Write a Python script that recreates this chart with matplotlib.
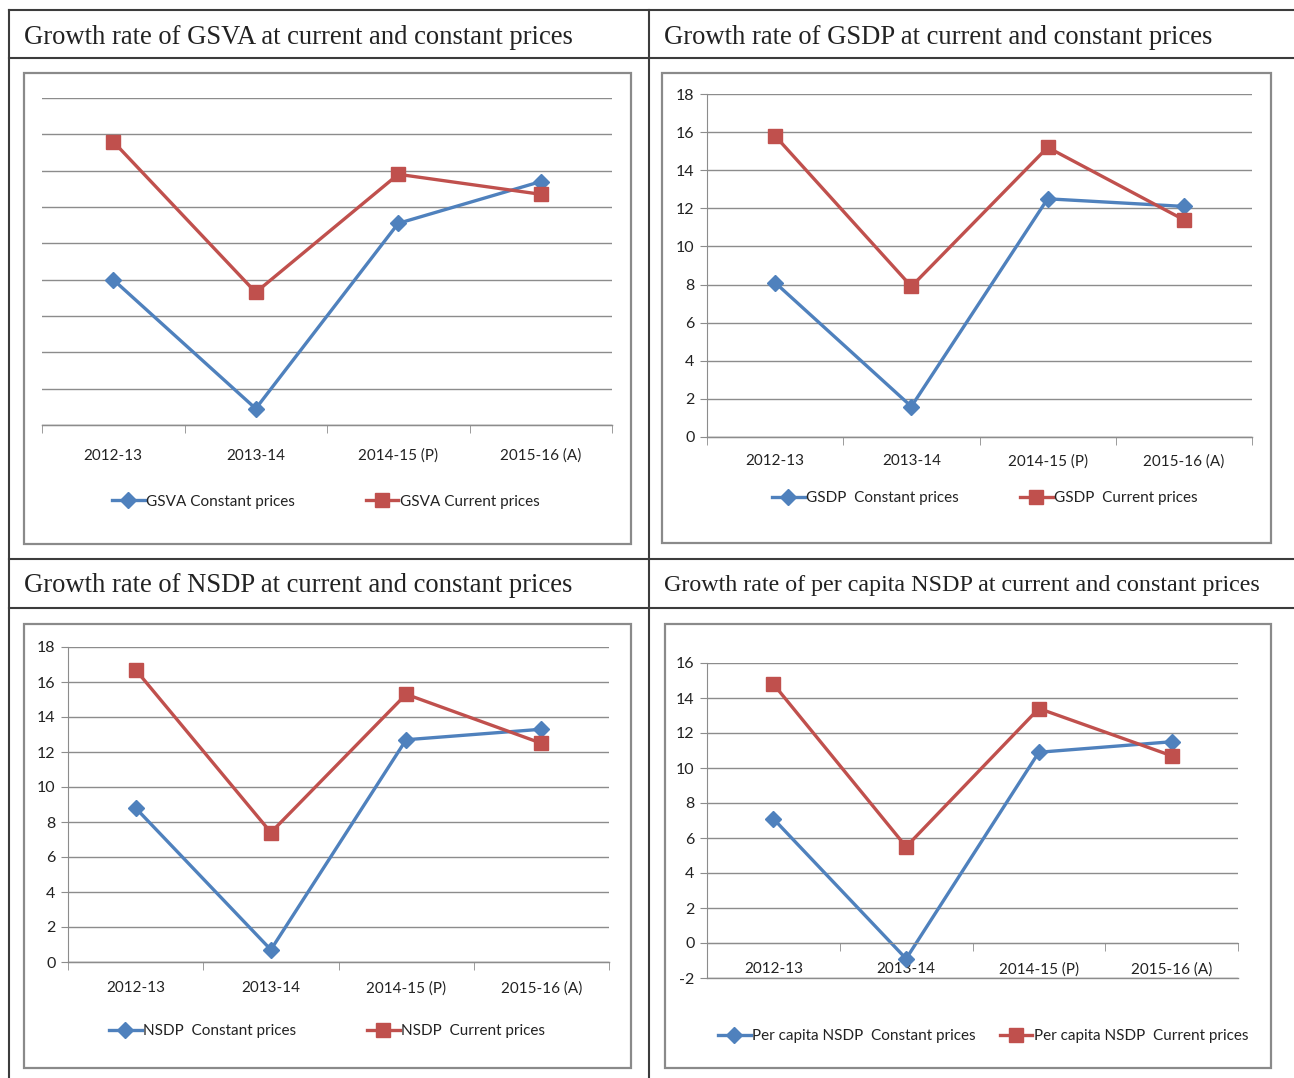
import matplotlib
matplotlib.use("Agg")
import matplotlib.pyplot as plt
from matplotlib.lines import Line2D
from matplotlib.patches import Rectangle

plt.rcParams["axes.unicode_minus"] = False

# data
years = ["2012-13", "2013-14", "2014-15 (P)", "2015-16 (A)"]
gsva_const = [8.0, 0.9, 11.1, 13.4]
gsva_curr = [15.6, 7.3, 13.8, 12.7]
gsdp_const = [8.1, 1.6, 12.5, 12.1]
gsdp_curr = [15.8, 7.9, 15.2, 11.4]
nsdp_const = [8.8, 0.7, 12.7, 13.3]
nsdp_curr = [16.7, 7.4, 15.3, 12.5]
pc_const = [7.1, -0.9, 10.9, 11.5]
pc_curr = [14.8, 5.5, 13.4, 10.7]

titles = ["Growth rate of GSVA at current and constant prices",
          "Growth rate of GSDP at current and constant prices",
          "Growth rate of NSDP at current and constant prices",
          "Growth rate of per capita NSDP at current and constant prices"]

W, H = 1294, 1078
BLUE = "#4F81BD"
RED = "#C0504D"
GRID = "#8c8c8c"
NARROW = ["Lato", "DejaVu Sans"]

fig = plt.figure(figsize=(W/100, H/100), dpi=100)
fig.patch.set_facecolor("white")

def fx(x):
    return x / W

def fy(y):
    return 1 - y / H

def hline(y, x0, x1, c="#3c3c3c", lw=1.5):
    fig.add_artist(Line2D([fx(x0), fx(x1)], [fy(y), fy(y)], color=c, lw=lw))

def vline(x, y0, y1, c="#3c3c3c", lw=1.5):
    fig.add_artist(Line2D([fx(x), fx(x)], [fy(y0), fy(y1)], color=c, lw=lw))

# table frame
for y in [10, 58, 559, 608]:
    hline(y, 9, W)
vline(9, 10, H)
vline(649, 10, H)

# titles
fig.text(fx(24), fy(37), titles[0], family="Liberation Serif", fontsize=19.2, va="center", ha="left", color="#222222")
fig.text(fx(664), fy(37), titles[1], family="Liberation Serif", fontsize=19.2, va="center", ha="left", color="#222222")
fig.text(fx(24), fy(586), titles[2], family="Liberation Serif", fontsize=19.2, va="center", ha="left", color="#222222")
fig.text(fx(664), fy(586), titles[3], family="Liberation Serif", fontsize=17.3, va="center", ha="left", color="#222222")

# chart boxes
for (x0, y0, x1, y1) in [(24, 73, 631, 544), (662, 73, 1271, 543), (24, 624, 631, 1068), (665, 624, 1271, 1068)]:
    fig.add_artist(Rectangle((fx(x0), fy(y1)), fx(x1 - x0), (y1 - y0) / H,
                             fill=False, ec="#8a8a8a", lw=1.6))

def panel(px, const, curr, names, ymin, ymax, show_y, leg_xy, colsp, xpad):
    x0, y0, x1, y1 = px
    ax = fig.add_axes([fx(x0), fy(y1), fx(x1 - x0), (y1 - y0) / H])
    xs = [1, 2, 3, 4]
    ax.plot(xs, const, color=BLUE, lw=2.4, marker="D", markersize=8.5, label=names[0])
    ax.plot(xs, curr, color=RED, lw=2.4, marker="s", markersize=9.5, label=names[1])
    ax.set_xlim(0.5, 4.5)
    ax.set_ylim(ymin, ymax)
    ax.set_yticks(range(ymin, ymax + 1, 2))
    ax.grid(axis="y", color=GRID, lw=1.0)
    ax.axhline(ymin, color=GRID, lw=1.0, clip_on=False, zorder=0.5)
    ax.set_axisbelow(True)
    for s in ["top", "right"]:
        ax.spines[s].set_visible(False)
    ax.spines["bottom"].set_position(("data", 0))
    ax.spines["bottom"].set_color(GRID)
    ax.spines["left"].set_color(GRID)
    ax.set_xticks(xs)
    ax.set_xticklabels(years, family=NARROW, fontsize=11, color="#222222")
    ax.set_xticks([0.5, 1.5, 2.5, 3.5, 4.5], minor=True)
    ax.tick_params(axis="x", which="major", length=0, pad=xpad)
    ax.tick_params(axis="x", which="minor", length=6, color=GRID, direction="out")
    if show_y:
        ax.tick_params(axis="y", length=5, color=GRID, pad=4)
        for t in ax.get_yticklabels():
            t.set_family(NARROW)
            t.set_fontsize(11.5)
            t.set_color("#222222")
    else:
        ax.spines["left"].set_visible(False)
        ax.tick_params(axis="y", length=0, labelleft=False)
    ax.legend(loc="center", bbox_to_anchor=leg_xy, ncol=2, frameon=False,
              prop={"family": NARROW, "size": 11}, handlelength=2.15,
              handletextpad=0.1, columnspacing=colsp, labelcolor="#222222")
    return ax

panel((42, 98, 612, 425), gsva_const, gsva_curr,
      ["GSVA Constant prices", "GSVA Current prices"], 0, 18, False, (0.498, -0.235), 4.6, 17)
panel((707, 94, 1252, 437), gsdp_const, gsdp_curr,
      ["GSDP  Constant prices", "GSDP  Current prices"], 0, 18, True, (0.51, -0.178), 4.0, 12.5)
panel((68, 647, 609, 962), nsdp_const, nsdp_curr,
      ["NSDP  Constant prices", "NSDP  Current prices"], 0, 18, True, (0.479, -0.219), 4.6, 14)
panel((707, 663, 1238, 978), pc_const, pc_curr,
      ["Per capita NSDP  Constant prices", "Per capita NSDP  Current prices"], -2, 16, True, (0.52, -0.184), 1.55, 14)

fig.savefig("out.png", dpi=100)
